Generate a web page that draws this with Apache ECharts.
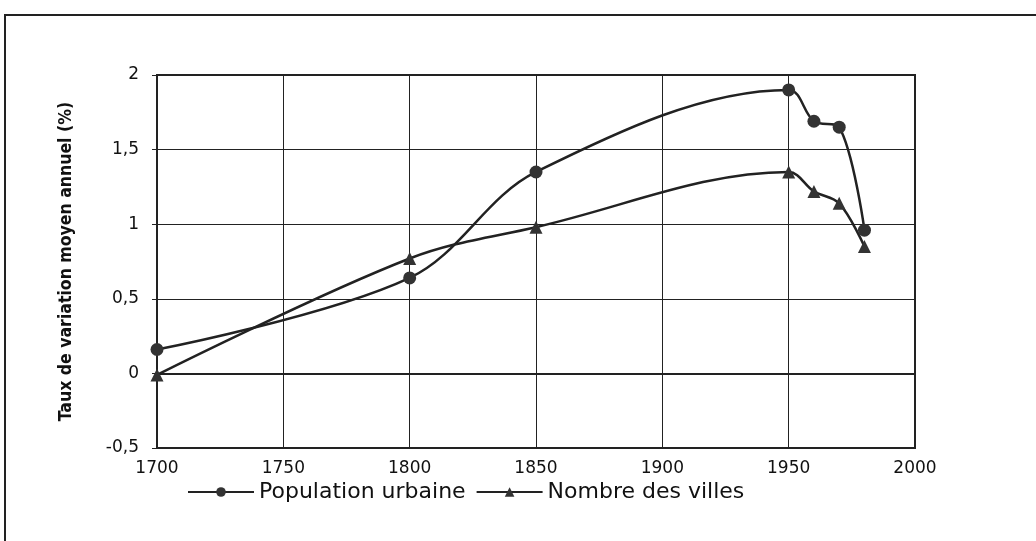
<!DOCTYPE html>
<html>
<head>
<meta charset="utf-8">
<script src="https://cdn.jsdelivr.net/npm/echarts@6/dist/echarts.min.js"></script>
<style>
html,body{margin:0;padding:0;background:#fff;}
#c{width:1036px;height:541px;}
</style>
</head>
<body>
<div id="c"></div>
<script>
const years = [1700, 1800, 1850, 1950, 1960, 1970, 1980];
const populationUrbaine = [0.16, 0.64, 1.35, 1.9, 1.69, 1.65, 0.96];
const nombreVilles = [-0.01, 0.77, 0.98, 1.35, 1.22, 1.14, 0.85];
const seriesNames = ['Population urbaine', 'Nombre des villes'];
const yAxisName = 'Taux de variation moyen annuel (%)';

const chart = echarts.init(document.getElementById('c'));
const ink = '#222';
const font = 'DejaVu Sans, Liberation Sans, Arial, sans-serif';
const condensed = 'DejaVu Sans Condensed, DejaVu Sans, sans-serif';
function pairs(vals){ return years.map((y,i)=>[y, vals[i]]); }

chart.setOption({
  backgroundColor: '#fff',
  animation: false,
  graphic: [{
    type: 'rect', silent: true,
    shape: {x: 5, y: 15, width: 1040, height: 560},
    style: {fill: 'none', stroke: ink, lineWidth: 2}
  }],
  grid: {left: 157, right: 121, top: 75, bottom: 93},
  legend: {
    bottom: 33, left: 182,
    itemWidth: 66, itemHeight: 12, itemGap: 10,
    textStyle: {fontFamily: font, fontSize: 22, color: '#111'},
    data: seriesNames
  },
  xAxis: {
    type: 'value', min: 1700, max: 2000, interval: 50,
    axisLine: {show: true, lineStyle: {color: ink, width: 2}},
    axisTick: {show: true, length: 5, lineStyle: {color: ink}},
    axisLabel: {color: '#111', fontFamily: font, fontSize: 17, margin: 12,
      formatter: v => String(v)},
    splitLine: {show: true, lineStyle: {color: ink, width: 1}}
  },
  yAxis: {
    type: 'value', min: -0.5, max: 2, interval: 0.5,
    name: yAxisName, nameLocation: 'middle', nameGap: 82, nameRotate: 90,
    nameTextStyle: {color: '#111', fontFamily: condensed, fontSize: 17.5, fontWeight: 'bold'},
    axisLine: {show: true, lineStyle: {color: ink, width: 2}},
    axisTick: {show: true, length: 5, lineStyle: {color: ink}},
    axisLabel: {color: '#111', fontFamily: font, fontSize: 17, margin: 18,
      formatter: v => String(v).replace('.', ',')},
    splitLine: {show: true, lineStyle: {color: ink, width: 1.2}}
  },
  series: [{
    name: seriesNames[0], type: 'line', smooth: 0.35,
    data: pairs(populationUrbaine),
    symbol: 'circle', symbolSize: 13,
    itemStyle: {color: '#333'},
    lineStyle: {color: ink, width: 2.5}
  }, {
    name: seriesNames[1], type: 'line', smooth: 0.35,
    data: pairs(nombreVilles),
    symbol: 'triangle', symbolSize: 13,
    itemStyle: {color: '#333'},
    lineStyle: {color: ink, width: 2.5}
  }, {
    type: 'line', data: [], silent: true,
    markArea: {silent: true, itemStyle: {color: 'none', borderColor: ink, borderWidth: 2},
      data: [[{coord: [1700, 2]}, {coord: [2000, -0.5]}]]}
  }]
});
</script>
</body>
</html>
